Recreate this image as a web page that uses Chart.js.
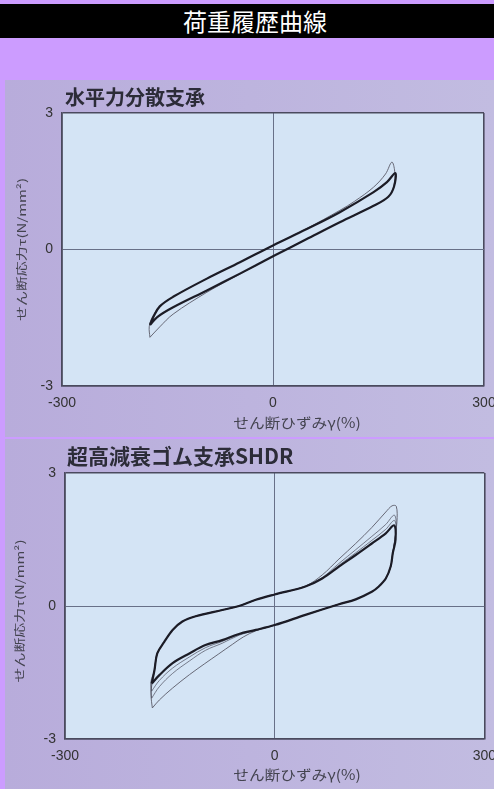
<!DOCTYPE html>
<html lang="ja">
<head>
<meta charset="utf-8">
<title>荷重履歴曲線</title>
<script src="https://cdn.jsdelivr.net/npm/chart.js"></script>
<style>
  html, body { margin: 0; padding: 0; }
  body { width: 494px; height: 789px; overflow: hidden; background: #cc9cff; position: relative; font-family: "Noto Sans CJK JP", sans-serif; }
  #header { position: absolute; left: 0; top: 4px; width: 494px; height: 34px; background: #000; }
  #header h1 { margin: 0; position: absolute; left: 183px; top: 0; line-height: 34px; font-size: 24px; font-weight: normal; color: #fff; }
  .panel { position: absolute; left: 5px; width: 489px; overflow: hidden; background: linear-gradient(90deg, #b8acdb, #c2bce1); }
  #p1 { top: 80px; height: 357px; }
  #p2 { top: 439px; height: 350px; }
  .panel canvas { position: absolute; left: 0; top: 0; }
</style>
</head>
<body>
<div id="header"><h1>荷重履歴曲線</h1></div>
<div class="panel" id="p1"><canvas id="chart1" width="500" height="357"></canvas></div>
<div class="panel" id="p2"><canvas id="chart2" width="500" height="350"></canvas></div>
<script>
// axis ticks
const strainTicks = [-300, 0, 300];
const stressTicks = [-3, 0, 3];

// 水平力分散支承: stable loop and first cycle (strain %, stress N/mm2)
const hfStrain = [-175, -170, -161, -142, -94, -47, 0, 48, 95, 143, 162, 174, 172, 164, 143, 95, 48, 0, -47, -94, -142, -165, -175];
const hfStress = [-1.66, -1.48, -1.25, -1.04, -0.64, -0.28, 0.09, 0.45, 0.82, 1.26, 1.48, 1.68, 1.38, 1.16, 0.96, 0.6, 0.23, -0.15, -0.53, -0.9, -1.27, -1.49, -1.66];
const hfFirstStrain = [-175, -176, -172, -161, -142, -94, -47, 0, 48, 95, 116, 143, 160, 169, 173, 172, 164, 143, 95, 48, 0, -47, -94, -142, -161, -175];
const hfFirstStress = [-1.93, -1.7, -1.5, -1.25, -1.04, -0.64, -0.28, 0.09, 0.46, 0.86, 1.06, 1.37, 1.66, 1.92, 1.72, 1.4, 1.16, 0.96, 0.6, 0.23, -0.15, -0.54, -0.94, -1.42, -1.7, -1.93];

// 超高減衰ゴム支承SHDR: stable loop, first cycle and two in-between cycles
const shdrStrain = [-176, -172, -168, -158, -146, -132, -113, -75, -51, -27, 0, 44, 68, 92, 116, 139, 159, 171, 173, 169, 166, 159, 149, 139, 116, 92, 44, 0, -27, -51, -75, -99, -122, -146, -165, -176];
const shdrStress = [-1.75, -1.45, -1.07, -0.81, -0.54, -0.35, -0.23, -0.09, 0.0, 0.14, 0.26, 0.44, 0.62, 0.89, 1.15, 1.41, 1.64, 1.82, 1.5, 1.19, 0.89, 0.62, 0.44, 0.32, 0.15, 0.04, -0.2, -0.43, -0.54, -0.63, -0.77, -0.88, -1.07, -1.29, -1.56, -1.75];
const shdrFirstStrain = [-175, -177, -176, -172, -168, -158, -146, -132, -113, -75, -51, -27, 0, 44, 68, 92, 116, 139, 159, 168, 174, 175, 172, 169, 166, 159, 149, 139, 116, 92, 44, 0, -27, -45, -60, -80, -100, -122, -146, -165, -175];
const shdrFirstStress = [-2.3, -2.02, -1.8, -1.45, -1.07, -0.81, -0.54, -0.35, -0.23, -0.09, 0.0, 0.14, 0.26, 0.45, 0.7, 1.06, 1.41, 1.77, 2.12, 2.26, 2.25, 1.9, 1.5, 1.19, 0.89, 0.62, 0.44, 0.32, 0.15, 0.04, -0.2, -0.43, -0.56, -0.7, -0.86, -1.08, -1.3, -1.55, -1.85, -2.12, -2.3];
const shdrMidStrain = [-176, -177, -172, -168, -158, -146, -132, -113, -75, -51, -27, 0, 44, 68, 92, 116, 139, 159, 171, 174, 172, 169, 166, 159, 149, 139, 116, 92, 44, 0, -27, -51, -75, -99, -122, -146, -165, -176];
const shdrMidAStress = [-2.08, -1.8, -1.45, -1.07, -0.81, -0.54, -0.35, -0.23, -0.09, 0.0, 0.14, 0.26, 0.44, 0.64, 0.96, 1.27, 1.57, 1.84, 2.05, 1.85, 1.5, 1.19, 0.89, 0.62, 0.44, 0.32, 0.15, 0.04, -0.2, -0.43, -0.55, -0.66, -0.84, -1.0, -1.24, -1.52, -1.82, -2.08];
const shdrMidBStress = [-1.92, -1.7, -1.45, -1.07, -0.81, -0.54, -0.35, -0.23, -0.09, 0.0, 0.14, 0.26, 0.44, 0.63, 0.92, 1.2, 1.48, 1.73, 1.93, 1.75, 1.5, 1.19, 0.89, 0.62, 0.44, 0.32, 0.15, 0.04, -0.2, -0.43, -0.54, -0.64, -0.8, -0.94, -1.15, -1.4, -1.68, -1.92];

const toPoints = (xs, ys) => xs.map((x, i) => ({ x, y: ys[i] }));

function loop(xs, ys, color, width) {
  return { data: toPoints(xs, ys), showLine: true, borderColor: color, borderWidth: width, pointRadius: 0, tension: 0.35, fill: false };
}

// plot background, panel title and the two axis captions
const plotFrame = {
  id: 'plotFrame',
  beforeDraw(chart, args, o) {
    const { ctx, chartArea: a } = chart;
    ctx.save();
    ctx.fillStyle = '#d4e4f5';
    ctx.fillRect(a.left, a.top, a.right - a.left, a.bottom - a.top);
    ctx.restore();
  },
  afterDraw(chart, args, o) {
    const { ctx, chartArea: a } = chart;
    ctx.save();
    ctx.textBaseline = 'middle';
    ctx.fillStyle = '#2c2c38';
    ctx.font = `bold ${o.titleSize}px "Noto Sans CJK JP"`;
    ctx.fillText(o.title, o.titleX, o.titleY);

    ctx.fillStyle = '#444450';
    ctx.font = '14px "Noto Sans CJK JP"';
    ctx.save();
    ctx.translate(o.xCapX, o.xCapY);
    ctx.scale(1.12, 1);
    ctx.textAlign = 'center';
    ctx.fillText('せん断ひずみγ(%)', 0, 0);
    ctx.restore();

    ctx.font = '13px "Noto Sans CJK JP"';
    ctx.translate(o.yCapX, (a.top + a.bottom) / 2 + o.yCapShift);
    ctx.rotate(-Math.PI / 2);
    ctx.scale(1.15, 0.85);
    ctx.textAlign = 'center';
    ctx.fillText('せん断応力τ(N/mm²)', 0, 0);
    ctx.restore();
  }
};

function axes(yWidth, xHeight) {
  const grid = {
    drawTicks: false,
    color: c => (c.tick && c.tick.value === 0) ? '#687088' : '#4a4a5e',
    lineWidth: c => (c.tick && c.tick.value === 0) ? 1 : 1.6
  };
  const tickFont = { family: 'Liberation Sans', size: 14 };
  return {
    x: {
      type: 'linear', min: strainTicks[0], max: strainTicks[2],
      afterBuildTicks: s => { s.ticks = strainTicks.map(v => ({ value: v })); },
      ticks: { padding: 9, color: '#333', font: tickFont, maxRotation: 0 },
      grid, border: { color: '#4a4a5e', width: 1.6 },
      afterFit: s => { s.height = xHeight; }
    },
    y: {
      type: 'linear', min: stressTicks[0], max: stressTicks[2],
      afterBuildTicks: s => { s.ticks = stressTicks.map(v => ({ value: v })); },
      ticks: { padding: 9, color: '#333', font: tickFont },
      grid, border: { color: '#4a4a5e', width: 1.6 },
      afterFit: s => { s.width = yWidth; }
    }
  };
}

new Chart(document.getElementById('chart1'), {
  type: 'scatter',
  data: {
    datasets: [
      loop(hfStrain, hfStress, '#1c1c26', 2.2),
      loop(hfFirstStrain, hfFirstStress, '#5a5a68', 0.9)
    ]
  },
  options: {
    responsive: false, animation: false,
    layout: { padding: { top: 33, right: 21, left: 0, bottom: 0 } },
    scales: axes(57, 51),
    plugins: {
      legend: { display: false }, tooltip: { enabled: false },
      plotFrame: { title: '水平力分散支承', titleSize: 20, titleX: 60, titleY: 17, xCapX: 292, xCapY: 343, yCapX: 17, yCapShift: 0 }
    }
  },
  plugins: [plotFrame]
});

new Chart(document.getElementById('chart2'), {
  type: 'scatter',
  data: {
    datasets: [
      loop(shdrStrain, shdrStress, '#1c1c26', 2.2),
      loop(shdrMidStrain, shdrMidBStress, 'rgba(70,70,85,0.75)', 0.9),
      loop(shdrMidStrain, shdrMidAStress, 'rgba(70,70,85,0.75)', 0.9),
      loop(shdrFirstStrain, shdrFirstStress, '#5a5a68', 0.9)
    ]
  },
  options: {
    responsive: false, animation: false,
    layout: { padding: { top: 34, right: 20, left: 0, bottom: 0 } },
    scales: axes(60, 50),
    plugins: {
      legend: { display: false }, tooltip: { enabled: false },
      plotFrame: { title: '超高減衰ゴム支承SHDR', titleSize: 21, titleX: 62, titleY: 17, xCapX: 292, xCapY: 336, yCapX: 15, yCapShift: 5 }
    }
  },
  plugins: [plotFrame]
});
</script>
</body>
</html>
